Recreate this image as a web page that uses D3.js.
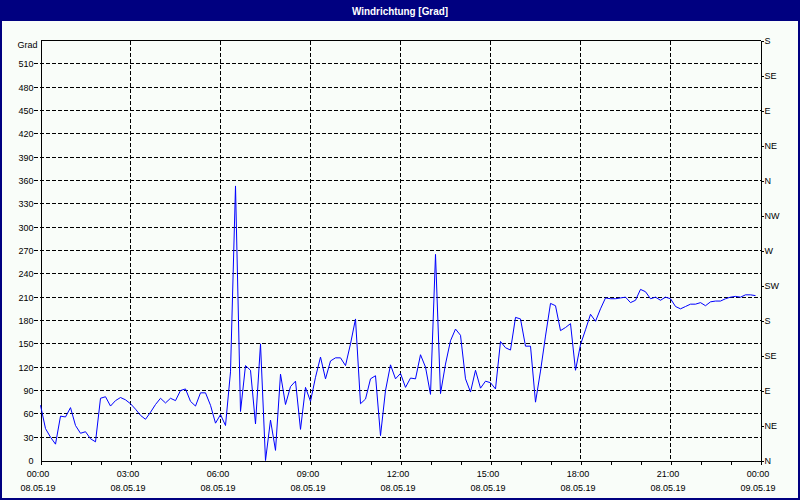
<!DOCTYPE html>
<html><head><meta charset="utf-8">
<script src="https://cdn.jsdelivr.net/npm/d3@7/dist/d3.min.js"></script>
<style>
body{margin:0;background:#fff;}
svg text{font-family:"Liberation Sans",Arial,sans-serif;font-size:9px;fill:#000;}
</style>
</head><body>
<svg id="chart" width="800" height="500"></svg>
<script>
const title = "Windrichtung [Grad]";
const yLabelTitle = "Grad";
const yTicks = [0,30,60,90,120,150,180,210,240,270,300,330,360,390,420,450,480,510];
const dirTicks = [0,45,90,135,180,225,270,315,360,405,450,495,540];
const dirLabels = ["N","NE","E","SE","S","SW","W","NW","N","NE","E","SE","S"];
const timeLabels = ["00:00","03:00","06:00","09:00","12:00","15:00","18:00","21:00","00:00"];
const dateLabels = ["08.05.19","08.05.19","08.05.19","08.05.19","08.05.19","08.05.19","08.05.19","08.05.19","09.05.19"];
const startTime = new Date(2019,4,8,0,0);
const endTime = new Date(2019,4,9,0,0);
const stepMinutes = 10;
const values = [
 71,41,30,21,57,56,68,45,35,37,28,24,80,82,70,77,81,78,73,66,58,53,62,72,80,74,80,77,90,92,76,70,87,87,71,48,59,
 45,114,353,63,122,116,47,150,0,52,13,111,72,95,102,40,94,76,107,133,105,128,132,132,122,150,182,73,79,105,
 109,32,90,123,105,112,94,106,105,136,120,85,265,86,124,154,169,161,105,88,116,93,102,100,92,153,
 145,142,184,182,147,147,75,115,160,202,199,167,171,176,116,149,168,188,179,195,209,208,208,209,210,203,206,
 220,217,208,210,206,210,208,198,195,198,201,201,203,199,204,205,205,208,210,211,210,213,213,212
];

const W = 800, H = 500;
const L = 40, R = 760, T = 40, B = 460;
const svg = d3.select("#chart");

// window background and frame
svg.append("rect").attr("x",0).attr("y",0).attr("width",W).attr("height",H).attr("fill","#f9fdf9");
svg.append("rect").attr("x",0).attr("y",0).attr("width",W).attr("height",21).attr("fill","#000080");
svg.append("rect").attr("x",1).attr("y",1).attr("width",W-2).attr("height",H-2)
  .attr("fill","none").attr("stroke","#000080").attr("stroke-width",2);
svg.append("text").attr("x",W/2).attr("y",14.5).attr("text-anchor","middle")
  .attr("textLength",96).attr("lengthAdjust","spacingAndGlyphs")
  .style("font-size","11px").style("font-weight","bold").style("fill","#fff").text(title);

const x = d3.scaleTime().domain([startTime,endTime]).range([L,R]);
const y = d3.scaleLinear().domain([0,540]).range([B,T]);

const g = svg.append("g").attr("transform","translate(0.5,0.5)").attr("shape-rendering","crispEdges");

// horizontal grid
g.selectAll(".hg").data(yTicks.filter(v=>v>0)).join("line")
  .attr("x1",L-7).attr("x2",R).attr("y1",d=>Math.round(y(d))).attr("y2",d=>Math.round(y(d)))
  .attr("stroke","#000").attr("stroke-dasharray","4,2");
// vertical grid
const gridTimes = d3.timeHour.every(3).range(startTime,endTime).filter(t=>+t>+startTime);
g.selectAll(".vg").data(gridTimes).join("line")
  .attr("x1",d=>Math.round(x(d))).attr("x2",d=>Math.round(x(d))).attr("y1",T).attr("y2",B)
  .attr("stroke","#000").attr("stroke-dasharray","4,2");

// frame lines
g.append("line").attr("x1",L).attr("x2",R).attr("y1",T).attr("y2",T).attr("stroke","#000");

// left axis
const ax = g.append("g").attr("transform",`translate(${L},0)`)
  .call(d3.axisLeft(y).tickValues(yTicks).tickSize(0).tickSizeOuter(0).tickPadding(7).tickFormat(d3.format("d")));
ax.select(".domain").attr("stroke","#000");
ax.selectAll("text").style("font-size","9px").attr("font-family",null);
g.append("text").attr("x",L-3).attr("y",y(540)+5).attr("dy","0.32em").attr("text-anchor","end").text(yLabelTitle);

// right axis
const ar = g.append("g").attr("transform",`translate(${R},0)`)
  .call(d3.axisRight(y).tickValues(dirTicks).tickSize(3).tickSizeOuter(0).tickPadding(1)
    .tickFormat((d,i)=>dirLabels[i]));
ar.select(".domain").attr("stroke","#000");
ar.selectAll("text").style("font-size","9px").attr("font-family",null);

// bottom axis
const ab = g.append("g").attr("transform",`translate(0,${B})`)
  .call(d3.axisBottom(x).ticks(d3.timeHour.every(1)).tickSize(4).tickSizeOuter(0).tickFormat(""));
ab.select(".domain").attr("stroke","#000");

const labelTimes = d3.timeHour.every(3).range(startTime,d3.timeMinute.offset(endTime,1));
const lab = svg.append("g");
lab.selectAll(".tl").data(labelTimes).join("text")
  .attr("x",d=>x(d)-2).attr("y",477).attr("text-anchor","middle").text((d,i)=>timeLabels[i]);
lab.selectAll(".dl").data(labelTimes).join("text")
  .attr("x",d=>x(d)-2).attr("y",491).attr("text-anchor","middle").text((d,i)=>dateLabels[i]);

// data line
const line = d3.line()
  .x((d,i)=>x(d3.timeMinute.offset(startTime,i*stepMinutes)))
  .y(d=>y(d));
svg.append("path").datum(values).attr("d",line)
  .attr("fill","none").attr("stroke","#0000ff").attr("stroke-width",1)
  .attr("transform","translate(0.5,0.5)");
</script>
</body></html>
